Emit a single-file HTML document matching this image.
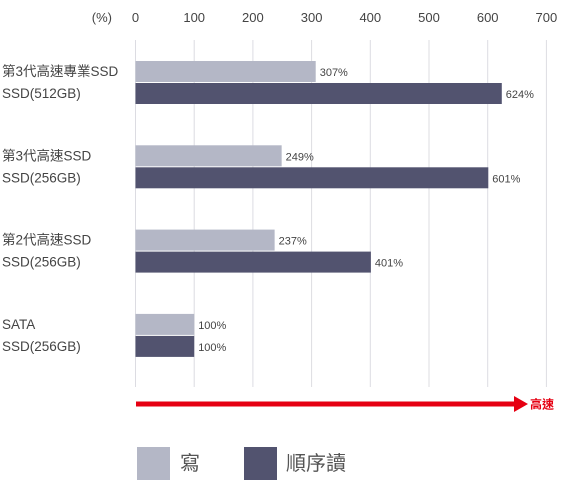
<!DOCTYPE html>
<html><head><meta charset="utf-8"><style>
body{margin:0;background:#fff;}
svg text{font-family:"Liberation Sans","Noto Sans CJK TC",sans-serif;}
</style></head><body>
<svg width="565" height="480" viewBox="0 0 565 480">
<g id="grid"></g><g id="bars"></g><g id="labels"></g>
<text x="112" y="22" font-size="13" fill="#444" text-anchor="end">(%)</text>
<line x1="136" y1="404" x2="516" y2="404" stroke="#e60012" stroke-width="5"/>
<polygon points="514,396 528,404 514,412" fill="#e60012"/>
<text x="530" y="408.5" font-size="12" font-weight="bold" fill="#e60012">高速</text>
<rect x="137" y="447" width="33" height="33" fill="#b4b7c6"/>
<text x="180" y="470" font-size="20" fill="#555">寫</text>
<rect x="244" y="447" width="33" height="33" fill="#52536f"/>
<text x="286" y="470" font-size="20" fill="#555">順序讀</text>
</svg>
<script>
const categories1=["第3代高速專業SSD","第3代高速SSD","第2代高速SSD","SATA"];
const categories2=["SSD(512GB)","SSD(256GB)","SSD(256GB)","SSD(256GB)"];
const writeValues=[307,249,237,100];
const readValues=[624,601,401,100];
const ticks=[0,100,200,300,400,500,600,700];
const NS="http://www.w3.org/2000/svg";
const x=v=>135.5+v*0.587;
const y0=g=>61+g*84.3;
function mk(t,a,p){const e=document.createElementNS(NS,t);for(const k in a)e.setAttribute(k,a[k]);p.appendChild(e);return e;}
const grid=document.getElementById('grid'),bars=document.getElementById('bars'),labels=document.getElementById('labels');
ticks.forEach(t=>{
 const l=mk('line',{x1:x(t),x2:x(t),y1:40,y2:387,stroke:'#dcdce2','stroke-width':1},grid);
 
 
 const tx=mk('text',{x:x(t),y:22,'font-size':13,fill:'#444','text-anchor':'middle'},labels);
 tx.textContent=t;
 
 
});
categories1.forEach((c,i)=>{
 const a=mk('text',{x:2,y:y0(i)+15,'font-size':13.5,fill:'#444'},labels);a.textContent=c;
 
 
 const b=mk('text',{x:2,y:y0(i)+37,'font-size':13.5,fill:'#444'},labels);b.textContent=categories2[i];
 
 
 const w=mk('rect',{x:x(0),y:y0(i),width:x(writeValues[i])-x(0),height:21,fill:'#b4b7c6'},bars);
 
 
 const r=mk('rect',{x:x(0),y:y0(i)+22,width:x(readValues[i])-x(0),height:21,fill:'#52536f'},bars);
 
 
 const wl=mk('text',{x:x(writeValues[i])+4,y:y0(i)+15,'font-size':11,fill:'#444'},labels);wl.textContent=writeValues[i]+'%';
 
 
 const rl=mk('text',{x:x(readValues[i])+4,y:y0(i)+37,'font-size':11,fill:'#444'},labels);rl.textContent=readValues[i]+'%';
 
 
});
</script>
</body></html>
